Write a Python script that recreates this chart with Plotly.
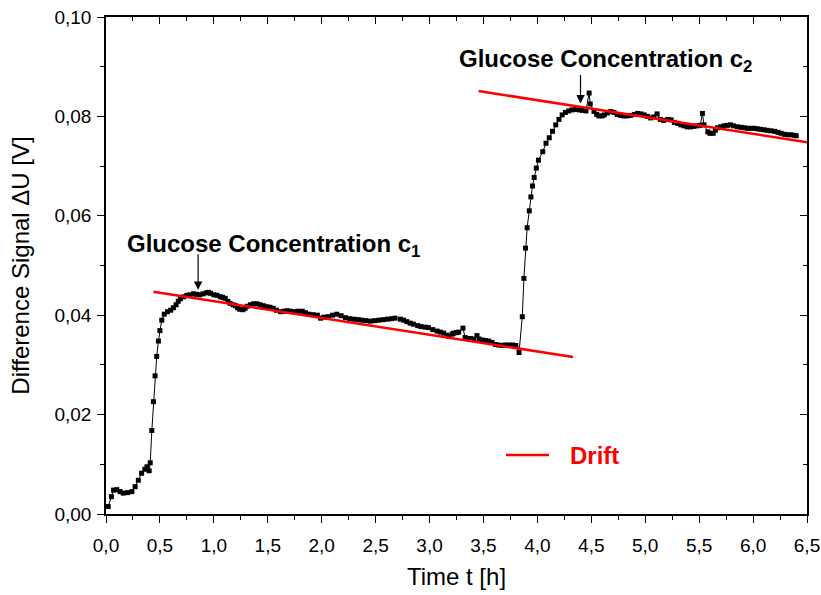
import plotly.graph_objects as go

# Measured difference signal over time
time_h = [0.02, 0.05, 0.07, 0.10, 0.13, 0.16, 0.20, 0.24, 0.27, 0.30, 0.33, 0.36, 0.38, 0.40, 0.41,
          0.425, 0.44, 0.455, 0.47, 0.486, 0.50, 0.517, 0.54, 0.57, 0.60, 0.625, 0.65, 0.67, 0.69,
          0.72, 0.75, 0.78, 0.81, 0.84, 0.87, 0.90, 0.93, 0.95, 0.97, 1.00, 1.03, 1.06, 1.08, 1.105,
          1.13, 1.15, 1.18, 1.20, 1.22, 1.24, 1.27, 1.29, 1.31, 1.34, 1.37, 1.40, 1.43, 1.46, 1.49,
          1.52, 1.55, 1.58, 1.62, 1.65, 1.68, 1.71, 1.74, 1.78, 1.82, 1.85, 1.88, 1.92, 1.96, 1.99,
          2.02, 2.06, 2.10, 2.14, 2.18, 2.22, 2.26, 2.30, 2.34, 2.37, 2.41, 2.45, 2.49, 2.53, 2.57,
          2.61, 2.65, 2.68, 2.73, 2.76, 2.79, 2.82, 2.85, 2.89, 2.92, 2.96, 2.99, 3.03, 3.07, 3.10,
          3.13, 3.16, 3.18, 3.21, 3.225, 3.25, 3.27, 3.31, 3.33, 3.36, 3.38, 3.41, 3.44, 3.46, 3.49,
          3.52, 3.55, 3.58, 3.61, 3.64, 3.67, 3.70, 3.735, 3.77, 3.80, 3.83, 3.86, 3.875, 3.89,
          3.905, 3.925, 3.94, 3.955, 3.97, 3.99, 4.01, 4.05, 4.08, 4.11, 4.14, 4.17, 4.20, 4.23,
          4.26, 4.29, 4.32, 4.355, 4.39, 4.42, 4.45, 4.48, 4.49, 4.525, 4.55, 4.57, 4.60, 4.62,
          4.65, 4.68, 4.71, 4.74, 4.77, 4.80, 4.83, 4.865, 4.90, 4.93, 4.96, 4.99, 5.02, 5.05,
          5.08, 5.11, 5.14, 5.17, 5.21, 5.24, 5.27, 5.30, 5.33, 5.36, 5.39, 5.42, 5.45, 5.48,
          5.51, 5.53, 5.545, 5.58, 5.60, 5.63, 5.65, 5.67, 5.70, 5.73, 5.76, 5.79, 5.82, 5.855,
          5.89, 5.92, 5.95, 5.98, 6.01, 6.04, 6.07, 6.10, 6.13, 6.165, 6.20, 6.23, 6.26, 6.29,
          6.32, 6.35, 6.38, 6.40]

signal_v = [0.0015, 0.0035, 0.0048, 0.0049, 0.0045, 0.0042, 0.0043, 0.0045, 0.0055, 0.0068, 0.0082,
            0.0090, 0.0095, 0.0087, 0.0103, 0.0168, 0.0226, 0.0278, 0.0317, 0.0348, 0.0369, 0.0390,
            0.0402, 0.0407, 0.0410, 0.0415, 0.0421, 0.0428, 0.0433, 0.0437, 0.0440, 0.0441, 0.0443,
            0.0442, 0.0441, 0.0443, 0.0445, 0.0446, 0.0444, 0.0441, 0.0440, 0.0437, 0.0436, 0.0434,
            0.0428, 0.0424, 0.0421, 0.0419, 0.0415, 0.0412, 0.0411, 0.0414, 0.0418, 0.0421, 0.0423,
            0.0423, 0.0421, 0.0419, 0.0417, 0.0416, 0.0414, 0.0410, 0.0407, 0.0408, 0.0409, 0.0408,
            0.0407, 0.0408, 0.0408, 0.0405, 0.0402, 0.0401, 0.0400, 0.0394, 0.0396, 0.0397, 0.0400,
            0.0402, 0.0399, 0.0395, 0.0393, 0.0392, 0.0391, 0.0390, 0.0389, 0.0388, 0.0389, 0.0390,
            0.0391, 0.0392, 0.0393, 0.0394, 0.0392, 0.0390, 0.0387, 0.0384, 0.0382, 0.0379, 0.0377,
            0.0376, 0.0375, 0.0371, 0.0368, 0.0366, 0.0364, 0.0360, 0.0357, 0.0362, 0.0364, 0.0365,
            0.0366, 0.0374, 0.0355, 0.0353, 0.0353, 0.0352, 0.0359, 0.0352, 0.0350, 0.0349, 0.0348,
            0.0345, 0.0341, 0.0340, 0.0339, 0.0340, 0.0340, 0.0340, 0.0339, 0.0325, 0.0397, 0.0474,
            0.0535, 0.0576, 0.0610, 0.0638, 0.0660, 0.0677, 0.0696, 0.0712, 0.0729, 0.0746, 0.0757,
            0.0770, 0.0783, 0.0794, 0.0803, 0.0808, 0.0811, 0.0813, 0.0814, 0.0813, 0.0812, 0.0811,
            0.0847, 0.0825, 0.0810, 0.0804, 0.0801, 0.0801, 0.0803, 0.0807, 0.0810, 0.0808, 0.0804,
            0.0802, 0.0801, 0.0801, 0.0802, 0.0804, 0.0806, 0.0805, 0.0803, 0.0800, 0.0797, 0.0799,
            0.0805, 0.0794, 0.0792, 0.0794, 0.0793, 0.0788, 0.0786, 0.0783, 0.0781, 0.0779, 0.0779,
            0.0780, 0.0781, 0.0782, 0.0806, 0.0783, 0.0769, 0.0766, 0.0766, 0.0772, 0.0777, 0.0779,
            0.0781, 0.0782, 0.0783, 0.0781, 0.0779, 0.0778, 0.0777, 0.0776, 0.0776, 0.0776, 0.0775,
            0.0774, 0.0773, 0.0772, 0.0771, 0.0770, 0.0768, 0.0766, 0.0764, 0.0763, 0.0763, 0.0762,
            0.0761]

# Linear drift fits for the two plateaus
drift1_t = [0.44, 4.33]
drift1_v = [0.0447, 0.0316]
drift2_t = [3.455, 6.50]
drift2_v = [0.0851, 0.0748]

# Points marked by the concentration arrows, and where their labels sit
arrow_t = [0.854, 4.40]
arrow_v = [0.0451, 0.0826]
label_t = [0.175, 3.25]
label_v = [0.0541, 0.0913]
label_text = ["<b>Glucose Concentration c<sub>1</sub></b>",
              "<b>Glucose Concentration c<sub>2</sub></b>"]

x_ticks = [i * 0.5 for i in range(14)]
y_ticks = [0.0, 0.02, 0.04, 0.06, 0.08, 0.10]

FONT = "Liberation Sans, Arial, sans-serif"
RED = "#ff0000"

fig = go.Figure()

fig.add_trace(go.Scatter(
    x=time_h, y=signal_v, mode="lines+markers",
    line=dict(color="black", width=1),
    marker=dict(symbol="square", size=5, color="black"),
    showlegend=False,
))
for t, v in ((drift1_t, drift1_v), (drift2_t, drift2_v)):
    fig.add_trace(go.Scatter(
        x=t, y=v, mode="lines", line=dict(color=RED, width=2.5),
        showlegend=False,
    ))

# Arrows and their labels
for i, ay in enumerate((-37, -30)):
    fig.add_annotation(x=arrow_t[i], y=arrow_v[i], ax=0, ay=ay, text="",
                       showarrow=True, arrowhead=2, arrowsize=1.4, arrowwidth=1.2,
                       arrowcolor="black")
    fig.add_annotation(x=label_t[i], y=label_v[i], text=label_text[i],
                       showarrow=False, xanchor="left", yanchor="middle",
                       font=dict(family=FONT, size=24, color="black"))

# Drift key
fig.add_shape(type="line", xref="paper", yref="paper",
              x0=(506 - 106) / 701, x1=(549 - 106) / 701,
              y0=(514 - 455) / 497, y1=(514 - 455) / 497,
              line=dict(color=RED, width=2.5))
fig.add_annotation(xref="paper", yref="paper", x=(568 - 106) / 701, y=(514 - 455) / 497,
                   xanchor="left", yanchor="middle", showarrow=False,
                   text="<b>Drift</b>", font=dict(family=FONT, size=24, color=RED))

axis_common = dict(showline=True, linecolor="black", linewidth=1.5, showgrid=False,
                   zeroline=False, ticklen=7, tickwidth=1.3, tickcolor="black",
                   automargin=False)

fig.update_layout(
    width=821, height=595,
    margin=dict(l=106, r=14, t=17, b=81),
    plot_bgcolor="white", paper_bgcolor="white",
    separators=", ",
    font=dict(family=FONT, size=19, color="black"),
    xaxis=dict(range=[0, 6.5], tickvals=x_ticks, tickformat=".1f", ticks="outside",
               ticklabelstandoff=6,
               title=dict(text="Time t [h]", font=dict(size=24), standoff=14),
               minor=dict(dtick=0.25, ticks="outside", ticklen=4, tickcolor="black"),
               **axis_common),
    yaxis=dict(range=[0, 0.10], tickvals=y_ticks, tickformat=".2f", ticks="outside",
               ticklabelstandoff=2,
               title=dict(text="Difference Signal ΔU [V]", font=dict(size=24), standoff=18),
               minor=dict(dtick=0.01, ticks="outside", ticklen=4, tickcolor="black"),
               **axis_common),
    xaxis2=dict(range=[0, 6.5], overlaying="x", side="top", tickvals=x_ticks,
                showticklabels=False, ticks="inside",
                minor=dict(dtick=0.25, ticks="inside", ticklen=4, tickcolor="black"),
                **axis_common),
    yaxis2=dict(range=[0, 0.10], overlaying="y", side="right", tickvals=y_ticks,
                showticklabels=False, ticks="inside",
                minor=dict(dtick=0.01, ticks="inside", ticklen=4, tickcolor="black"),
                **axis_common),
)

# Empty trace so the top/right frame axes are drawn
fig.add_trace(go.Scatter(x=[None], y=[None], xaxis="x2", yaxis="y2", showlegend=False,
                         hoverinfo="skip"))

fig.write_html("out.html")
